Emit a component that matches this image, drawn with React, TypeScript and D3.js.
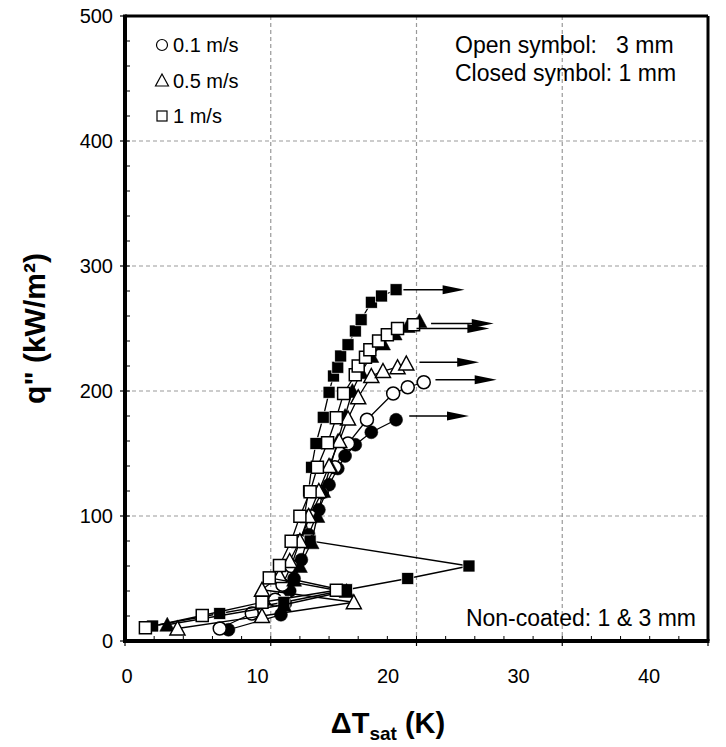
import React from "react";
import * as d3 from "d3";

// ---- data (ΔTsat [K], q'' [kW/m²]) ----
const openCircle: [number, number][] = [
  [6.5, 10], [8.7, 22], [10.3, 33], [10.8, 45], [11.4, 60], [12.0, 80], [12.7, 100], [13.5, 119],
  [14.4, 139], [15.3, 158], [16.6, 177], [18.4, 198], [19.4, 203], [20.5, 207],
];
const closedCircle: [number, number][] = [
  [7.1, 9], [10.7, 21], [11.0, 30], [11.3, 40], [11.6, 50], [12.1, 65], [12.6, 85], [13.3, 105],
  [14.0, 125], [14.6, 138], [15.1, 148], [15.8, 157], [16.9, 167], [18.6, 177],
];
const openTriangle: [number, number][] = [
  [3.6, 10], [9.4, 20], [15.7, 31], [9.4, 41], [10.6, 52], [11.3, 64], [12.0, 80], [12.6, 100],
  [13.3, 120], [14.0, 140], [14.7, 160], [15.3, 178], [16.0, 195], [16.9, 212], [17.7, 216],
  [18.7, 219], [19.3, 222],
];
const closedTriangle: [number, number][] = [
  [2.9, 13], [10.9, 29], [15.2, 40], [11.6, 49], [12.0, 60], [12.8, 79], [13.2, 100], [13.6, 120],
  [14.1, 140], [14.6, 160], [15.1, 180], [15.6, 200], [16.2, 215], [16.9, 228], [17.7, 238],
  [18.5, 246], [19.4, 252], [20.2, 256],
];
const closedSquare: [number, number][] = [
  [1.9, 12], [6.5, 22], [10.9, 31], [15.2, 41], [19.4, 50], [23.6, 60], [12.7, 80], [12.3, 100],
  [12.6, 120], [12.8, 139], [13.1, 158], [13.6, 179], [14.0, 199], [14.3, 212], [14.6, 219],
  [14.8, 228], [15.3, 237], [15.8, 248], [16.2, 257], [16.9, 271], [17.6, 276], [18.6, 281],
];
const openSquare: [number, number][] = [
  [1.4, 10.6], [5.3, 20.4], [9.4, 31], [14.5, 40.6], [9.9, 50.5], [10.6, 60.4], [11.4, 79.8],
  [12.0, 99.8], [12.7, 119.4], [13.2, 139], [13.9, 158.6], [14.5, 178.6], [15.0, 198], [15.8, 213],
  [16.0, 220], [16.5, 227], [16.8, 233], [17.4, 240], [18.0, 245], [18.7, 250], [19.8, 253],
];

// arrows: [startX, endX, q]
const arrows: [number, number, number][] = [
  [19.1, 23.3, 281], [21.0, 25.3, 254], [20.0, 25.0, 250], [20.2, 24.3, 223], [21.3, 25.5, 209], [19.5, 23.6, 180],
];

const xTicks = [0, 10, 20, 30, 40];
const yTicks = [0, 100, 200, 300, 400, 500];
const legendItems = [
  { shape: "circle", label: "0.1 m/s" },
  { shape: "triangle", label: "0.5 m/s" },
  { shape: "square", label: "1 m/s" },
];

const FONT = "'Liberation Sans', Arial, Helvetica, sans-serif";
const L = 125, R = 708, T = 16, B = 641;

const x = d3.scaleLinear().domain([0, 40]).range([L, R]);
const y = d3.scaleLinear().domain([0, 500]).range([B, T]);
// tick labels in the reference sit on a narrower span than the plot frame
const xLabel = d3.scaleLinear().domain([0, 40]).range([127, 649]);

function Marker({ shape, cx, cy, filled, s = 12, sw = 1.5 }: any) {
  const fill = filled ? "#000" : "#fff";
  if (shape === "circle")
    return <circle cx={cx} cy={cy} r={s / 2 + 0.5} fill={fill} stroke="#000" strokeWidth={filled ? 0.5 : sw} />;
  if (shape === "square")
    return <rect x={cx - s / 2} y={cy - s / 2} width={s} height={s} fill={fill} stroke={filled ? "#fff" : "#000"} strokeWidth={filled ? 0.7 : sw} />;
  const h = s + 1;
  const p = `M${cx},${cy - h / 2 - 1}L${cx + h / 2 + 1},${cy + h / 2}L${cx - h / 2 - 1},${cy + h / 2}Z`;
  return <path d={p} fill={fill} stroke="#000" strokeWidth={filled ? 0.5 : sw} strokeLinejoin="miter" />;
}

const series = [
  { data: closedCircle, shape: "circle", filled: true },
  { data: openCircle, shape: "circle", filled: false },
  { data: closedSquare, shape: "square", filled: true },
  { data: closedTriangle, shape: "triangle", filled: true },
  { data: openTriangle, shape: "triangle", filled: false },
  { data: openSquare, shape: "square", filled: false },
];

export default function App() {
  const line = d3.line<[number, number]>().x((d) => x(d[0])).y((d) => y(d[1]));
  const xMinor = d3.range(0, 40.01, 2);
  const yMinor = d3.range(0, 500.01, 20);
  return (
    <svg width={726} height={747} style={{ display: "block", position: "absolute", left: 0, top: 0 }}>
      <rect width={726} height={747} fill="#fff" />
      {/* grid */}
      {xTicks.slice(1, -1).map((t) => (
        <line key={"gx" + t} x1={x(t)} x2={x(t)} y1={T} y2={B} stroke="#999" strokeWidth={1.2} strokeDasharray="4,3" />
      ))}
      {yTicks.slice(1, -1).map((t) => (
        <line key={"gy" + t} x1={L} x2={R} y1={y(t)} y2={y(t)} stroke="#999" strokeWidth={1.2} strokeDasharray="4,3" />
      ))}
      {/* minor ticks inside */}
      {xMinor.map((t) => (
        <line key={"mx" + t} x1={x(t)} x2={x(t)} y1={B} y2={B - 5} stroke="#000" strokeWidth={1} />
      ))}
      {yMinor.map((t) => (
        <line key={"my" + t} x1={L} x2={L + 5} y1={y(t)} y2={y(t)} stroke="#000" strokeWidth={1} />
      ))}
      {xTicks.map((t) => (
        <line key={"tx" + t} x1={x(t)} x2={x(t)} y1={B} y2={B + 5} stroke="#000" strokeWidth={1.2} />
      ))}
      {yTicks.map((t) => (
        <line key={"ty" + t} x1={L - 5} x2={L} y1={y(t)} y2={y(t)} stroke="#000" strokeWidth={1.2} />
      ))}
      {/* series */}
      {series.map((s, i) => (
        <g key={"s" + i}>
          <path d={line(s.data) || ""} fill="none" stroke="#000" strokeWidth={1.3} />
          {s.data.map((d, j) => (
            <Marker key={j} shape={s.shape} cx={x(d[0])} cy={y(d[1])} filled={s.filled} />
          ))}
        </g>
      ))}
      {/* arrows */}
      {arrows.map((a, i) => {
        const x1 = x(a[0]), x2 = x(a[1]), yy = y(a[2]);
        return (
          <g key={"a" + i}>
            <line x1={x1} x2={x2 - 18} y1={yy} y2={yy} stroke="#000" strokeWidth={1.6} />
            <path d={`M${x2},${yy}L${x2 - 22},${yy - 4.5}L${x2 - 22},${yy + 4.5}Z`} fill="#000" />
          </g>
        );
      })}
      {/* frame */}
      <line x1={L} x2={R} y1={T} y2={T} stroke="#000" strokeWidth={3} />
      <line x1={R} x2={R} y1={T} y2={B} stroke="#000" strokeWidth={3} />
      <line x1={L} x2={L} y1={T - 1.5} y2={B + 2} stroke="#000" strokeWidth={4} />
      <line x1={L - 2} x2={R + 1.5} y1={B} y2={B} stroke="#000" strokeWidth={4} />
      {/* tick labels */}
      {xTicks.map((t) => (
        <text key={"lx" + t} x={xLabel(t)} y={683} textAnchor="middle" fontFamily={FONT} fontSize={20}>{t}</text>
      ))}
      {yTicks.map((t) => (
        <text key={"ly" + t} x={L - 12} y={y(t) + 7} textAnchor="end" fontFamily={FONT} fontSize={20}>{t}</text>
      ))}
      {/* axis titles */}
      <text x={(xLabel(0) + xLabel(40)) / 2} y={733} textAnchor="middle" fontFamily={FONT} fontSize={29} fontWeight="bold">
        ΔT<tspan fontSize={19} dy={7}>sat</tspan><tspan dy={-7}> (K)</tspan>
      </text>
      <text transform={`translate(45,${(T + B) / 2}) rotate(-90)`} textAnchor="middle" fontFamily={FONT} fontSize={30} fontWeight="bold">
        q" (kW/m²)
      </text>
      {/* legend */}
      {legendItems.map((it, i) => {
        const cy = 45 + i * 35.5;
        return (
          <g key={"lg" + i}>
            <Marker shape={it.shape} cx={162} cy={cy} filled={false} s={10} sw={1.2} />
            <text x={173} y={cy + 7} fontFamily={FONT} fontSize={20}>{it.label}</text>
          </g>
        );
      })}
      {/* annotations */}
      <text x={455} y={53} fontFamily={FONT} fontSize={23} xmlSpace="preserve">Open symbol:   3 mm</text>
      <text x={455} y={81} fontFamily={FONT} fontSize={23}>Closed symbol: 1 mm</text>
      <text x={R - 12} y={626} textAnchor="end" fontFamily={FONT} fontSize={23}>Non-coated: 1 &amp; 3 mm</text>
    </svg>
  );
}
